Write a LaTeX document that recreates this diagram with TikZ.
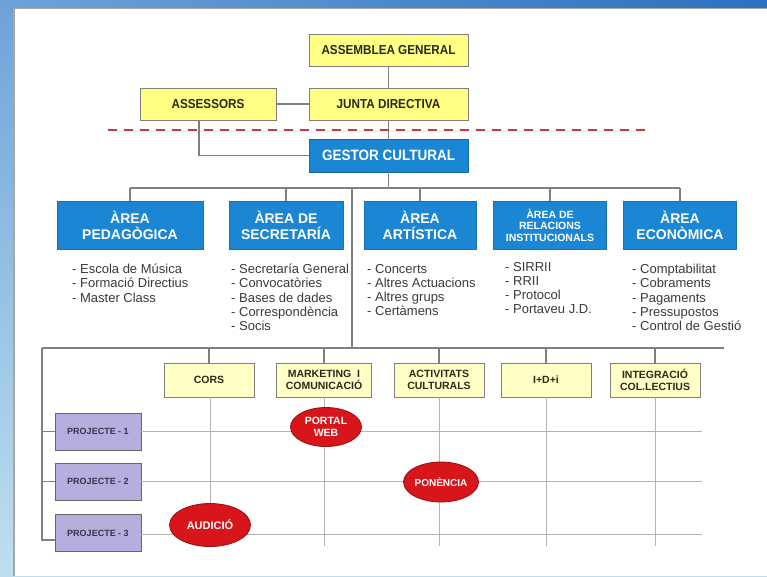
\documentclass[tikz,border=0pt]{standalone}
\usepackage{fontspec}
\setmainfont{Liberation Sans}
\newfontfamily\narrowfont[FakeStretch=0.9]{Liberation Sans}
\usetikzlibrary{shapes.geometric}
\definecolor{topyellow}{HTML}{FFFF84}
\definecolor{paleyellow}{HTML}{FFFFC6}
\definecolor{areablue}{HTML}{1B87D4}
\definecolor{lavender}{HTML}{B6AEDC}
\definecolor{ellred}{HTML}{D7151B}
\definecolor{boxgray}{HTML}{808080}
\definecolor{gridgray}{HTML}{B4B4B4}
\definecolor{dashred}{HTML}{D2323C}
\definecolor{txtdark}{HTML}{2A2A18}
\definecolor{listtxt}{HTML}{3A3A3A}
\definecolor{projtxt}{HTML}{34344E}
\definecolor{bgtopL}{HTML}{6EA3D8}
\definecolor{bgtopR}{HTML}{2C70BF}
\definecolor{bgbot}{HTML}{BFDFF0}
\begin{document}
\begin{tikzpicture}[x=1pt,y=-1pt,
  topbox/.style={draw=boxgray,line width=0.9pt,fill=topyellow,minimum width=159pt,minimum height=32pt,inner sep=0pt,
    font=\narrowfont\bfseries\fontsize{13}{15}\selectfont,text=txtdark},
  gestorbox/.style={draw=areablue!80!black,line width=0.9pt,fill=areablue,minimum width=159pt,minimum height=33pt,inner sep=0pt,
    font=\narrowfont\bfseries\fontsize{15}{17}\selectfont,text=white},
  areabox/.style={fill=areablue,draw=areablue!85!black,line width=0.6pt,minimum height=48pt,inner sep=0pt,align=center,
    font=\bfseries\fontsize{14}{16}\selectfont,text=white},
  listtext/.style={anchor=north west,inner sep=0pt,align=left,text=listtxt,font=\fontsize{13}{14.2}\selectfont},
  lowbox/.style={draw=boxgray,line width=0.9pt,fill=paleyellow,minimum width=90pt,minimum height=34pt,inner sep=0pt,align=center,
    font=\bfseries\fontsize{10.5}{12.3}\selectfont,text=txtdark},
  projbox/.style={draw=boxgray!80!black,line width=0.9pt,fill=lavender,minimum width=86pt,minimum height=37pt,inner sep=0pt,
    font=\bfseries\fontsize{9}{11}\selectfont,text=projtxt},
  redell/.style={ellipse,draw=ellred!70!black,line width=0.8pt,fill=ellred,inner sep=0pt,align=center,
    font=\bfseries\fontsize{10.5}{12.5}\selectfont,text=white},
  conn/.style={draw=boxgray,line width=1.1pt},
  gridline/.style={draw=gridgray,line width=0.9pt}
]
\useasboundingbox (0,0) rectangle (767,576);
% background frame
\shade[top color=bgtopL,bottom color=bgbot] (0,0) rectangle (767,576);
\shade[left color=bgtopL,right color=bgtopR] (0,0) rectangle (767,9);
\fill[gray!70] (13,7.5) rectangle (767,576);
\fill[white] (14.5,9) rectangle (767,576);

% top level
\node[topbox] (ag) at (388.5,50) {ASSEMBLEA GENERAL};
\node[topbox] (jd) at (388.5,104) {JUNTA DIRECTIVA};
\node[topbox,minimum width=136pt] (as) at (208,104) {ASSESSORS};
\node[gestorbox] (gc) at (388.5,155.5) {GESTOR CULTURAL};

\draw[conn] (ag) -- (jd);
\draw[conn] (as) -- (jd);
\draw[conn] (jd) -- (gc);
\draw[conn] ([xshift=-9pt]as.south) |- (gc.west);

\coordinate (dl) at (108,130);
\coordinate (dr) at (652,130);
\draw[dashred,line width=1.8pt,dash pattern=on 9pt off 7pt] (dl) -- (dr);

% areas
\node[areabox,minimum width=146pt] (a1) at (130,225) {ÀREA\\PEDAGÒGICA};
\node[areabox,minimum width=114pt] (a2) at (286,225) {ÀREA DE\\SECRETARÍA};
\node[areabox,minimum width=112pt] (a3) at (420,225) {ÀREA\\ARTÍSTICA};
\node[areabox,minimum width=113pt,font=\bfseries\fontsize{10.5}{11.5}\selectfont] (a4) at (550,225) {ÀREA DE\\RELACIONS\\INSTITUCIONALS};
\node[areabox,minimum width=113pt] (a5) at (680,225) {ÀREA\\ECONÒMICA};

\coordinate (busA) at (388.5,188);
\coordinate (busAl) at (130,188);
\coordinate (busAr) at (680,188);
\draw[conn] (gc) -- (busA);
\draw[conn] (busAl) -- (busAr);
\foreach \n in {a1,a2,a3,a4,a5}{\draw[conn] (\n.north |- busA) -- (\n.north);}

% lists
\node[listtext] (l1) at (72,264) {- Escola de Música\\- Formació Directius\\- Master Class};
\node[listtext] (l2) at (231,264) {- Secretaría General\\- Convocatòries\\- Bases de dades\\- Correspondència\\- Socis};
\node[listtext] (l3) at (367,264) {- Concerts\\- Altres Actuacions\\- Altres grups\\- Certàmens};
\node[listtext] (l4) at (505,262) {- SIRRII\\- RRII\\- Protocol\\- Portaveu J.D.};
\node[listtext] (l5) at (632,264) {- Comptabilitat\\- Cobraments\\- Pagaments\\- Pressupostos\\- Control de Gestió};

% long vertical to lower bus
\coordinate (vtop) at (352,188);
\coordinate (vbot) at (352,348);
\draw[conn] (vtop) -- (vbot);
\coordinate (busBl) at (42,348);
\coordinate (busBr) at (724,348);
\draw[conn] (busBl) -- (busBr);

% lower boxes
\node[lowbox] (cors) at (209,380) {CORS};
\node[lowbox,minimum width=95pt] (mkt) at (324,380) {MARKETING\ \ I\\COMUNICACIÓ};
\node[lowbox] (act) at (439,380) {ACTIVITATS\\CULTURALS};
\node[lowbox] (idi) at (546,380) {I+D+i};
\node[lowbox] (intg) at (655,380) {INTEGRACIÓ\\COL.LECTIUS};
\foreach \n in {cors,mkt,act,idi,intg}{\draw[conn] (\n.north |- busBl) -- (\n.north);}

% projects
\node[projbox] (p1) at (98,431.5) {PROJECTE - 1};
\node[projbox] (p2) at (98,481.5) {PROJECTE - 2};
\node[projbox] (p3) at (98,533) {PROJECTE - 3};
\coordinate (pl) at (42,540);
\draw[conn] (busBl) -- (pl) -- (pl -| p3.west);
\draw[conn] (p1.west -| busBl) -- (p1.west);
\draw[conn] (p2.west -| busBl) -- (p2.west);

% grid
\coordinate (gr1) at (702,432);
\coordinate (gr2) at (702,482);
\coordinate (gr3) at (702,532);
\draw[gridline] (p1.east) -- (p1.east -| gr1);
\draw[gridline] (p2.east) -- (p2.east -| gr2);
\draw[gridline] ([yshift=-1pt]p3.east) -- ([yshift=-1pt]p3.east -| gr3);
\coordinate (gb) at (0,546);
\draw[gridline] (mkt.south) -- (mkt.south |- gb);
\draw[gridline] (act.south) -- (act.south |- gb);
\draw[gridline] (idi.south) -- (idi.south |- gb);
\draw[gridline] (intg.south) -- (intg.south |- gb);

% ellipses
\node[redell,minimum width=71pt,minimum height=39pt] (web) at (326,427) {PORTAL\\WEB};
\node[redell,minimum width=75pt,minimum height=40pt,font=\bfseries\fontsize{10}{12}\selectfont] (pon) at (441,482) {PONÈNCIA};
\node[redell,minimum width=81pt,minimum height=43pt,font=\bfseries\fontsize{11}{13}\selectfont] (aud) at (210,525) {AUDICIÓ};
\draw[gridline] ([xshift=1pt]cors.south) -- ([xshift=1pt]cors.south |- aud.north);
\end{tikzpicture}
\end{document}
